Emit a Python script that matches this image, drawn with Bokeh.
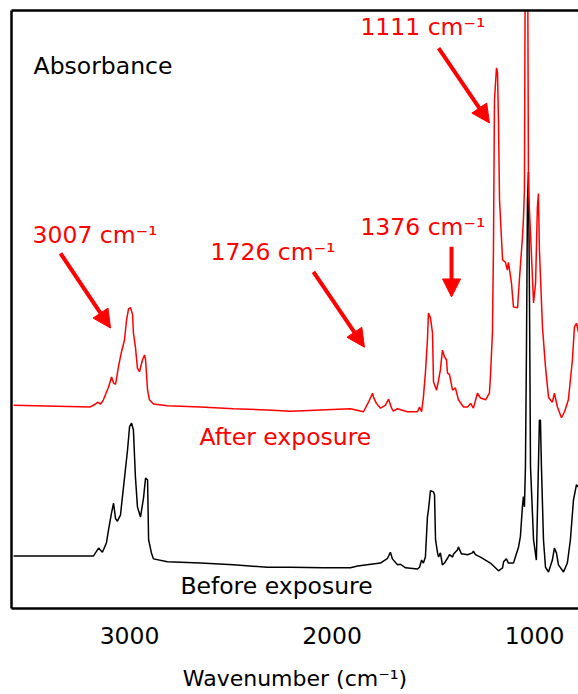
from bokeh.plotting import figure
from bokeh.models import Range1d, FixedTicker, LinearAxis, Label, Arrow, NormalHead, ColumnDataSource
from bokeh.embed import file_html
from bokeh.resources import INLINE

# ---------------- data ----------------
wn_before = [3573, 3178, 3153, 3134, 3114, 3104, 3089, 3079, 3069, 3060,
             3045, 3025, 3010, 3000, 2990, 2981, 2971, 2961, 2946, 2931,
             2921, 2911, 2906, 2892, 2882, 2813, 2650, 2487, 2319, 2205,
             2042, 1909, 1874, 1761, 1726, 1712, 1702, 1677, 1662, 1637,
             1578, 1568, 1558, 1549, 1539, 1529, 1524, 1514, 1499, 1494,
             1489, 1479, 1474, 1465, 1455, 1445, 1430, 1420, 1405, 1400,
             1381, 1376, 1361, 1351, 1331, 1307, 1302, 1292, 1267, 1218,
             1178, 1158, 1153, 1139, 1129, 1104, 1079, 1070, 1060, 1055,
             1050, 1045, 1040, 1035, 1030, 1025, 1020, 1005, 991, 981,
             976, 971, 966, 956, 946, 931, 912, 902, 892, 882,
             857, 838, 823, 808, 793, 783]
abs_before = [0.088, 0.088, 0.101, 0.094, 0.110, 0.131, 0.160, 0.176, 0.150, 0.146,
              0.156, 0.218, 0.265, 0.304, 0.310, 0.299, 0.220, 0.170, 0.153, 0.185,
              0.218, 0.215, 0.115, 0.093, 0.083, 0.078, 0.076, 0.073, 0.069, 0.069,
              0.068, 0.068, 0.071, 0.076, 0.084, 0.094, 0.083, 0.073, 0.074, 0.068,
              0.066, 0.069, 0.081, 0.076, 0.086, 0.153, 0.165, 0.197, 0.195, 0.190,
              0.115, 0.093, 0.086, 0.093, 0.073, 0.076, 0.084, 0.090, 0.086, 0.091,
              0.098, 0.103, 0.091, 0.091, 0.090, 0.093, 0.096, 0.090, 0.086, 0.076,
              0.063, 0.068, 0.078, 0.083, 0.076, 0.076, 0.103, 0.120, 0.170, 0.187,
              0.170, 0.237, 0.432, 0.683, 0.730, 0.516, 0.237, 0.115, 0.081, 0.237,
              0.315, 0.315, 0.237, 0.115, 0.069, 0.061, 0.081, 0.101, 0.093, 0.073,
              0.061, 0.076, 0.115, 0.181, 0.207, 0.203]

wn_after = [3573, 3193, 3168, 3158, 3143, 3129, 3114, 3104, 3089, 3079,
            3069, 3055, 3040, 3025, 3015, 3005, 2995, 2985, 2981, 2971,
            2961, 2951, 2936, 2926, 2921, 2911, 2902, 2882, 2813, 2650,
            2487, 2319, 2205, 1909, 1845, 1820, 1800, 1795, 1781, 1761,
            1736, 1721, 1706, 1697, 1677, 1628, 1578, 1568, 1558, 1549,
            1539, 1529, 1524, 1514, 1504, 1499, 1484, 1474, 1465, 1455,
            1445, 1435, 1430, 1420, 1405, 1391, 1376, 1351, 1331, 1316,
            1302, 1282, 1267, 1242, 1223, 1218, 1208, 1203, 1198, 1188,
            1183, 1178, 1173, 1158, 1144, 1134, 1129, 1114, 1104, 1084,
            1074, 1060, 1055, 1050, 1045, 1035, 1030, 1020, 1005, 995,
            986, 981, 976, 961, 946, 931, 912, 902, 887, 867,
            852, 833, 813, 803, 793, 783]
abs_after = [0.340, 0.337, 0.342, 0.345, 0.342, 0.349, 0.362, 0.370, 0.387, 0.377,
             0.375, 0.404, 0.429, 0.449, 0.482, 0.501, 0.503, 0.491, 0.461, 0.437,
             0.402, 0.396, 0.416, 0.424, 0.416, 0.365, 0.349, 0.342, 0.339, 0.337,
             0.334, 0.332, 0.330, 0.334, 0.329, 0.345, 0.360, 0.353, 0.343, 0.335,
             0.340, 0.350, 0.335, 0.330, 0.334, 0.329, 0.329, 0.337, 0.329, 0.353,
             0.394, 0.449, 0.494, 0.486, 0.461, 0.379, 0.365, 0.382, 0.399, 0.432,
             0.421, 0.416, 0.394, 0.391, 0.365, 0.369, 0.349, 0.337, 0.337, 0.343,
             0.335, 0.360, 0.352, 0.349, 0.360, 0.387, 0.461, 0.600, 0.850, 0.904,
             0.897, 0.812, 0.683, 0.583, 0.579, 0.566, 0.579, 0.544, 0.504, 0.503,
             0.554, 0.620, 0.650, 0.700, 1.185, 1.185, 0.700, 0.628, 0.511, 0.544,
             0.671, 0.694, 0.600, 0.471, 0.404, 0.353, 0.345, 0.360, 0.337, 0.319,
             0.329, 0.349, 0.416, 0.471, 0.477, 0.462]

x_ticks = [3000, 2000, 1000]

# annotation texts and positions (data units)
peak_texts = ["3007 cm\u207b\u00b9", "1726 cm\u207b\u00b9", "1376 cm\u207b\u00b9", "1111 cm\u207b\u00b9"]
peak_text_x = [3479, 2600, 1860, 1860]
peak_text_y = [0.624, 0.596, 0.638, 0.972]
arrow_x0 = [3341, 2092, 1410, 1474]
arrow_y0 = [0.594, 0.563, 0.605, 0.937]
arrow_x1 = [3094, 1840, 1410, 1223]
arrow_y1 = [0.469, 0.437, 0.521, 0.812]

FONT = "DejaVu Sans"
FS = "23.5px"
RED = "#ff0000"

p = figure(width=578, height=694, output_backend="svg", toolbar_location=None,
           x_range=Range1d(3583, 783), y_range=Range1d(0, 1),
           min_border_left=11, min_border_right=0, min_border_top=10, min_border_bottom=86)
p.outline_line_color = None
p.grid.visible = False
p.background_fill_color = "white"
p.border_fill_color = "white"

# bottom axis
xa = p.xaxis[0]
xa.ticker = FixedTicker(ticks=x_ticks)
xa.major_tick_in = 0
xa.major_tick_out = 0
xa.minor_tick_line_color = None
xa.axis_line_width = 2.5
xa.axis_line_color = "black"
xa.major_label_text_font = FONT
xa.major_label_text_font_size = FS
xa.major_label_text_color = "black"
xa.major_label_standoff = 18
xa.axis_label = "Wavenumber (cm\u207b\u00b9)"
xa.axis_label_text_font = FONT
xa.axis_label_text_font_size = "22px"
xa.axis_label_text_font_style = "normal"
xa.axis_label_text_color = "black"
xa.axis_label_standoff = 19

# left axis as a plain frame line
ya = p.yaxis[0]
ya.ticker = FixedTicker(ticks=[])
ya.major_tick_in = 0
ya.major_tick_out = 0
ya.minor_tick_line_color = None
ya.major_label_standoff = 0
ya.major_label_text_font_size = "0px"
ya.axis_line_width = 2.5

# top frame line
top = LinearAxis(ticker=FixedTicker(ticks=[]), major_tick_in=0, major_tick_out=0,
                 minor_tick_line_color=None, major_label_standoff=0,
                 major_label_text_font_size="0px", axis_line_width=2.5)
p.add_layout(top, "above")

src_b = ColumnDataSource(dict(x=wn_before, y=abs_before))
src_a = ColumnDataSource(dict(x=wn_after, y=abs_after))
p.line("x", "y", source=src_b, line_color="black", line_width=1.5)
p.line("x", "y", source=src_a, line_color=RED, line_width=1.5)

# text labels
p.add_layout(Label(x=3474, y=0.907, text="Absorbance", text_font=FONT, text_font_size=FS,
                   text_color="black", text_align="left", text_baseline="alphabetic"))
p.add_layout(Label(x=2655, y=0.287, text="After exposure", text_font=FONT, text_font_size=FS,
                   text_color=RED, text_align="left", text_baseline="alphabetic"))
p.add_layout(Label(x=2749, y=0.037, text="Before exposure", text_font=FONT, text_font_size=FS,
                   text_color="black", text_align="left", text_baseline="alphabetic"))
for t, tx, ty in zip(peak_texts, peak_text_x, peak_text_y):
    p.add_layout(Label(x=tx, y=ty, text=t, text_font=FONT, text_font_size=FS,
                       text_color=RED, text_align="left", text_baseline="alphabetic"))

for x0, y0, x1, y1 in zip(arrow_x0, arrow_y0, arrow_x1, arrow_y1):
    p.add_layout(Arrow(end=NormalHead(size=18, fill_color=RED, line_color=RED),
                       x_start=x0, y_start=y0, x_end=x1, y_end=y1,
                       line_color=RED, line_width=4))

open("out.html", "w").write(file_html(p, INLINE))
